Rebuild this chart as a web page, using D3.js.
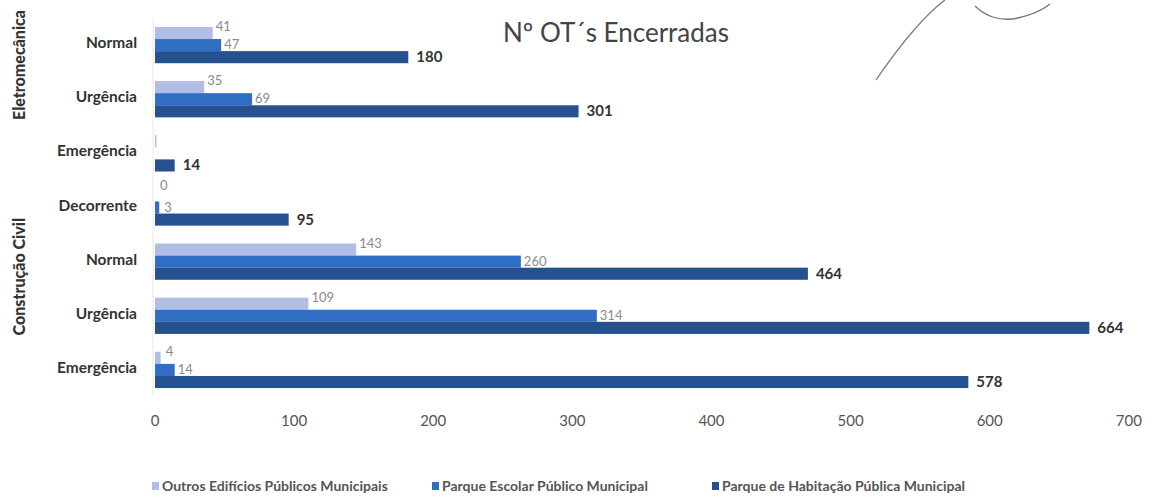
<!DOCTYPE html>
<html><head><meta charset="utf-8">
<script src="https://cdn.jsdelivr.net/npm/d3@7"></script>
<style>
html,body{margin:0;padding:0;background:#fff;}
svg{display:block;font-family:Lato,"Open Sans",sans-serif;}
</style></head>
<body>
<svg id="chart" width="1154" height="500"></svg>
<script>
const categories = ["Normal","Urgência","Emergência","Decorrente","Normal ","Urgência ","Emergência "];
const categoryLabels = ["Normal","Urgência","Emergência","Decorrente","Normal","Urgência","Emergência"];
const groups = ["Eletromecânica","Construção Civil"];
const groupOfCategory = [0,0,0,1,1,1,1];
const seriesNames = ["Outros Edifícios Públicos Municipais","Parque Escolar Público Municipal","Parque de Habitação Pública Municipal"];
const outros = [41,35,1,0,143,109,4];
const escolar = [47,69,0,3,260,314,14];
const habitacao = [180,301,14,95,464,664,578];
const xTicks = [0,100,200,300,400,500,600,700];
const title = "Nº OT´s Encerradas";

const colors = ["#b0bee6","#2f6ec2","#26518f"];
const svg = d3.select("#chart");

const x = d3.scaleLinear().domain([0,700]).range([155,1140]);
const y = d3.scaleBand().domain(categories).range([18,397]).paddingInner(0.33).paddingOuter(0.165);
const ys = d3.scaleBand().domain(seriesNames).range([0,y.bandwidth()]);

const seriesData = [outros, escolar, habitacao];

// category axis line
svg.append("line").attr("x1",x(0)-2).attr("x2",x(0)-2).attr("y1",18).attr("y2",397)
  .attr("stroke","#e8e8e8").attr("stroke-width",1);

// bars
seriesData.forEach((vals,si)=>{
  svg.append("g").selectAll("rect").data(vals).join("rect")
    .attr("x",x(0))
    .attr("y",(d,i)=>y(categories[i])+ys(seriesNames[si]))
    .attr("width",d=>d>0?Math.max(1.5,x(d)-x(0)):0)
    .attr("height",ys.bandwidth())
    .attr("fill",colors[si]);
});

// value labels
const dy = [-2, 4, 5];
seriesData.forEach((vals,si)=>{
  svg.append("g").selectAll("text").data(vals).join("text")
    .attr("x",d=>x(d)+(si===2?8:(d<5?5:3)))
    .attr("y",(d,i)=>y(categories[i])+ys(seriesNames[si])+ys.bandwidth()/2+dy[si] - (si===0&&d===0?3:0))
    .attr("font-size",si===2?15:13)
    .attr("font-weight",si===2?"bold":"normal")
    .attr("fill",si===2?"#333":"#8a8a8a")
    .text((d,i)=> (si===2 || d>1 || categories[i]==="Decorrente") ? d : "");
});

// category labels
svg.append("g").selectAll("text").data(categories).join("text")
  .attr("x",137).attr("y",d=>y(d)+y.bandwidth()/2+3)
  .attr("text-anchor","end").attr("font-size",15.5).attr("font-weight","bold").attr("fill","#333")
  .text((d,i)=>categoryLabels[i]);

// group labels
groups.forEach((g,gi)=>{
  const idx = groupOfCategory.map((v,i)=>v===gi?i:-1).filter(i=>i>=0);
  const top = y(categories[idx[0]]), bot = y(categories[idx[idx.length-1]])+y.bandwidth();
  const cy = gi===0 ? 65 : (top+bot)/2 - 12;
  svg.append("text").attr("transform",`translate(25,${cy}) rotate(-90)`)
    .attr("text-anchor","middle").attr("font-size",16).attr("font-weight","900").attr("fill","#333")
    .text(g);
});

// x axis tick labels
svg.append("g").selectAll("text").data(xTicks).join("text")
  .attr("x",d=>x(d)-d*0.016).attr("y",426).attr("text-anchor","middle")
  .attr("font-size",15).attr("fill","#555").text(d=>d);

// title
svg.append("text").attr("x",616).attr("y",42).attr("text-anchor","middle")
  .attr("font-size",26).attr("fill","#444").text(title);

// legend
const legendX = [152,432,712];
seriesNames.forEach((s,i)=>{
  const g = svg.append("g").attr("transform",`translate(${legendX[i]},491)`);
  g.append("rect").attr("x",0).attr("y",-9).attr("width",7).attr("height",8).attr("fill",colors[i]);
  g.append("text").attr("x",10).attr("y",0).attr("font-size",14).attr("font-weight","bold").attr("fill","#555").text(s);
});

// handwritten mark (scan artifact)
svg.append("path").attr("d","M876,80 C900,45 925,15 945,0 M975,6 C985,16 1000,22 1018,18 C1035,14 1045,8 1050,4")
  .attr("fill","none").attr("stroke","#777").attr("stroke-width",1.3);
</script>
</body></html>
